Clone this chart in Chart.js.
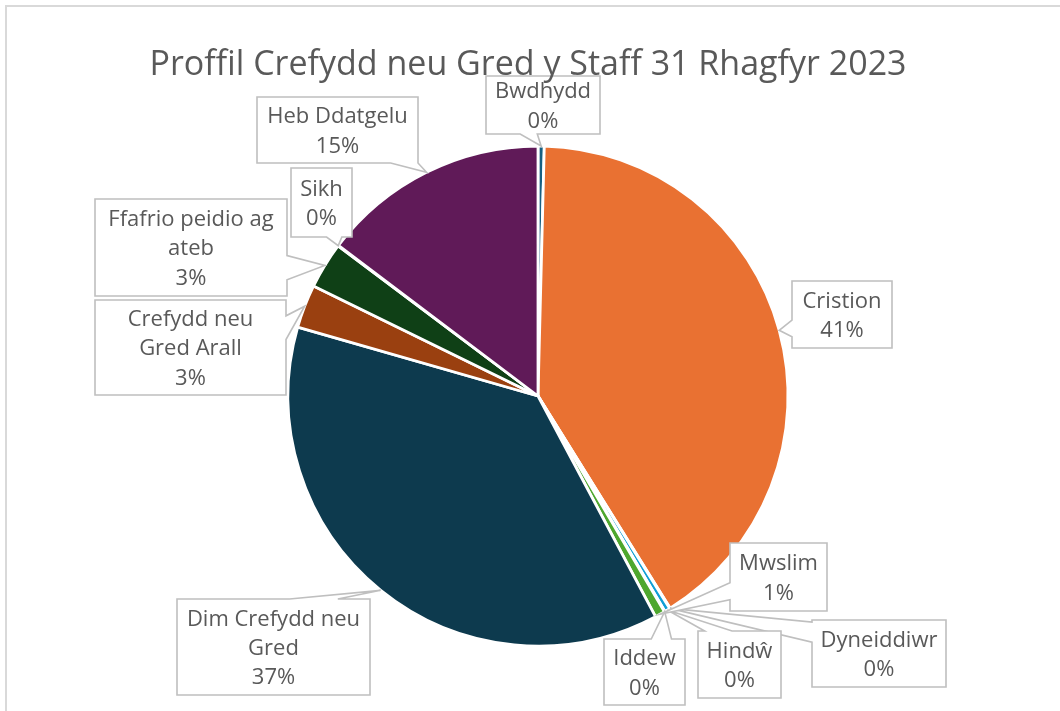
<!DOCTYPE html>
<html><head><meta charset="utf-8">
<script src="https://cdn.jsdelivr.net/npm/chart.js@4.4.1/dist/chart.umd.min.js"></script>
<style>html,body{margin:0;padding:0;background:#fff;overflow:hidden}canvas{display:block}</style>
</head><body>
<canvas id="c" width="1060" height="711"></canvas>
<script>
// ---- data ----
const chartTitle = 'Proffil Crefydd neu Gred y Staff 31 Rhagfyr 2023';
const categories = ['Bwdhydd', 'Cristion', 'Dyneiddiwr', 'Hindŵ', 'Iddew', 'Mwslim',
  'Dim Crefydd neu Gred', 'Crefydd neu Gred Arall', 'Ffafrio peidio ag ateb', 'Sikh', 'Heb Ddatgelu'];
const values = [0.4, 40.7, 0.04, 0.35, 0.04, 0.65, 37.2, 2.8, 3.0, 0.04, 14.7];
const sliceColors = ['#156082', '#E97132', '#196B24', '#0F9ED5', '#A02B93', '#4EA72E',
  '#0D3A4E', '#9A4010', '#0F4016', '#095F80', '#601A58'];

// ---- callout layout (box rect, wrap width, wedge side + base fractions) ----
const calloutLayout = [
  {box: [486, 76, 600, 134], wrap: 110, side: 'bottom', base: [0.30, 0.45]},
  {box: [792, 281, 892, 348], wrap: 95, side: 'left', base: [7/12, 10/12]},
  {box: [812, 620, 946, 687], wrap: 130, side: 'left', base: [0.03, 0.33]},
  {box: [698, 631, 781, 698], wrap: 80, side: 'top', base: [0.08, 0.41]},
  {box: [604, 639, 685, 705], wrap: 80, side: 'top', base: [7/12, 10/12]},
  {box: [730, 543, 827, 611], wrap: 95, side: 'left', base: [7/12, 10/12]},
  {box: [177, 599, 370, 695], wrap: 180, side: 'top', base: [7/12, 10/12]},
  {box: [95, 300, 286, 395], wrap: 150, side: 'right', base: [2/12, 5/12]},
  {box: [95, 199, 287, 296], wrap: 180, side: 'right', base: [7/12, 10/12]},
  {box: [291, 168, 352, 237], wrap: 60, side: 'bottom', base: [7/12, 10/12]},
  {box: [257, 97, 418, 163], wrap: 155, side: 'bottom', base: [0.83, 1.0]}
];

const FONT = '"Open Sans", "Noto Sans", sans-serif';
const LABEL_SIZE = 22, LABEL_LH = 29.3, TEXT_COLOR = '#595959';

function wrapText(ctx, text, maxW) {
  const words = text.split(' ');
  const lines = [];
  let cur = '';
  words.forEach(w => {
    const test = cur ? cur + ' ' + w : w;
    if (cur && ctx.measureText(test).width > maxW) { lines.push(cur); cur = w; }
    else cur = test;
  });
  if (cur) lines.push(cur);
  return lines;
}

const frameAndTitle = {
  id: 'frameAndTitle',
  beforeDraw(chart) {
    const ctx = chart.ctx;
    ctx.save();
    ctx.fillStyle = '#ffffff';
    ctx.fillRect(0, 0, chart.width, chart.height);
    ctx.strokeStyle = '#d9d9d9';
    ctx.lineWidth = 2;
    ctx.strokeRect(6, 6, chart.width + 100, chart.height + 100);
    ctx.restore();
  },
  afterDraw(chart) {
    const ctx = chart.ctx;
    ctx.save();
    ctx.font = '34px ' + FONT;
    ctx.fillStyle = TEXT_COLOR;
    ctx.textAlign = 'center';
    ctx.textBaseline = 'alphabetic';
    ctx.fillText(chartTitle, 528, 75);
    ctx.restore();
  }
};

const callouts = {
  id: 'callouts',
  afterDatasetsDraw(chart) {
    const ctx = chart.ctx;
    const meta = chart.getDatasetMeta(0);
    const data = chart.data.datasets[0].data;
    const total = data.reduce((a, b) => a + b, 0);
    ctx.save();
    ctx.font = LABEL_SIZE + 'px ' + FONT;
    meta.data.forEach((arc, i) => {
      const L = calloutLayout[i];
      if (!L) return;
      const p = arc.getProps(['x', 'y', 'startAngle', 'endAngle', 'outerRadius'], true);
      const mid = (p.startAngle + p.endAngle) / 2;
      const tip = [p.x + Math.cos(mid) * p.outerRadius, p.y + Math.sin(mid) * p.outerRadius];
      const [x1, y1, x2, y2] = L.box;
      const w = x2 - x1, h = y2 - y1;
      const [a, b] = L.base;
      const pts = [];
      pts.push([x1, y1]);
      if (L.side === 'top') pts.push([x1 + a * w, y1], tip, [x1 + b * w, y1]);
      pts.push([x2, y1]);
      if (L.side === 'right') pts.push([x2, y1 + a * h], tip, [x2, y1 + b * h]);
      pts.push([x2, y2]);
      if (L.side === 'bottom') pts.push([x1 + b * w, y2], tip, [x1 + a * w, y2]);
      pts.push([x1, y2]);
      if (L.side === 'left') pts.push([x1, y1 + b * h], tip, [x1, y1 + a * h]);
      ctx.beginPath();
      pts.forEach((q, k) => k ? ctx.lineTo(q[0], q[1]) : ctx.moveTo(q[0], q[1]));
      ctx.closePath();
      ctx.fillStyle = '#ffffff';
      ctx.fill();
      ctx.strokeStyle = '#bfbfbf';
      ctx.lineWidth = 1.6;
      ctx.lineJoin = 'miter';
      ctx.stroke();

      const lines = wrapText(ctx, chart.data.labels[i], L.wrap);
      lines.push(Math.round(data[i] / total * 100) + '%');
      const cx = (x1 + x2) / 2, cy = (y1 + y2) / 2;
      const capHalf = LABEL_SIZE * 0.714 / 2;
      ctx.fillStyle = TEXT_COLOR;
      ctx.textAlign = 'center';
      ctx.textBaseline = 'alphabetic';
      lines.forEach((t, k) => {
        const ym = cy + (k - (lines.length - 1) / 2) * LABEL_LH;
        ctx.fillText(t, cx, ym + capHalf);
      });
    });
    ctx.restore();
  }
};

new Chart(document.getElementById('c'), {
  type: 'pie',
  data: {
    labels: categories,
    datasets: [{
      data: values,
      backgroundColor: sliceColors,
      borderColor: '#ffffff',
      borderWidth: 2.8
    }]
  },
  options: {
    responsive: false,
    animation: false,
    radius: 250,
    layout: {padding: {left: 288, right: 272, top: 146, bottom: 65}},
    plugins: {
      legend: {display: false},
      tooltip: {enabled: false},
      title: {display: false}
    }
  },
  plugins: [frameAndTitle, callouts]
});
</script>
</body></html>
